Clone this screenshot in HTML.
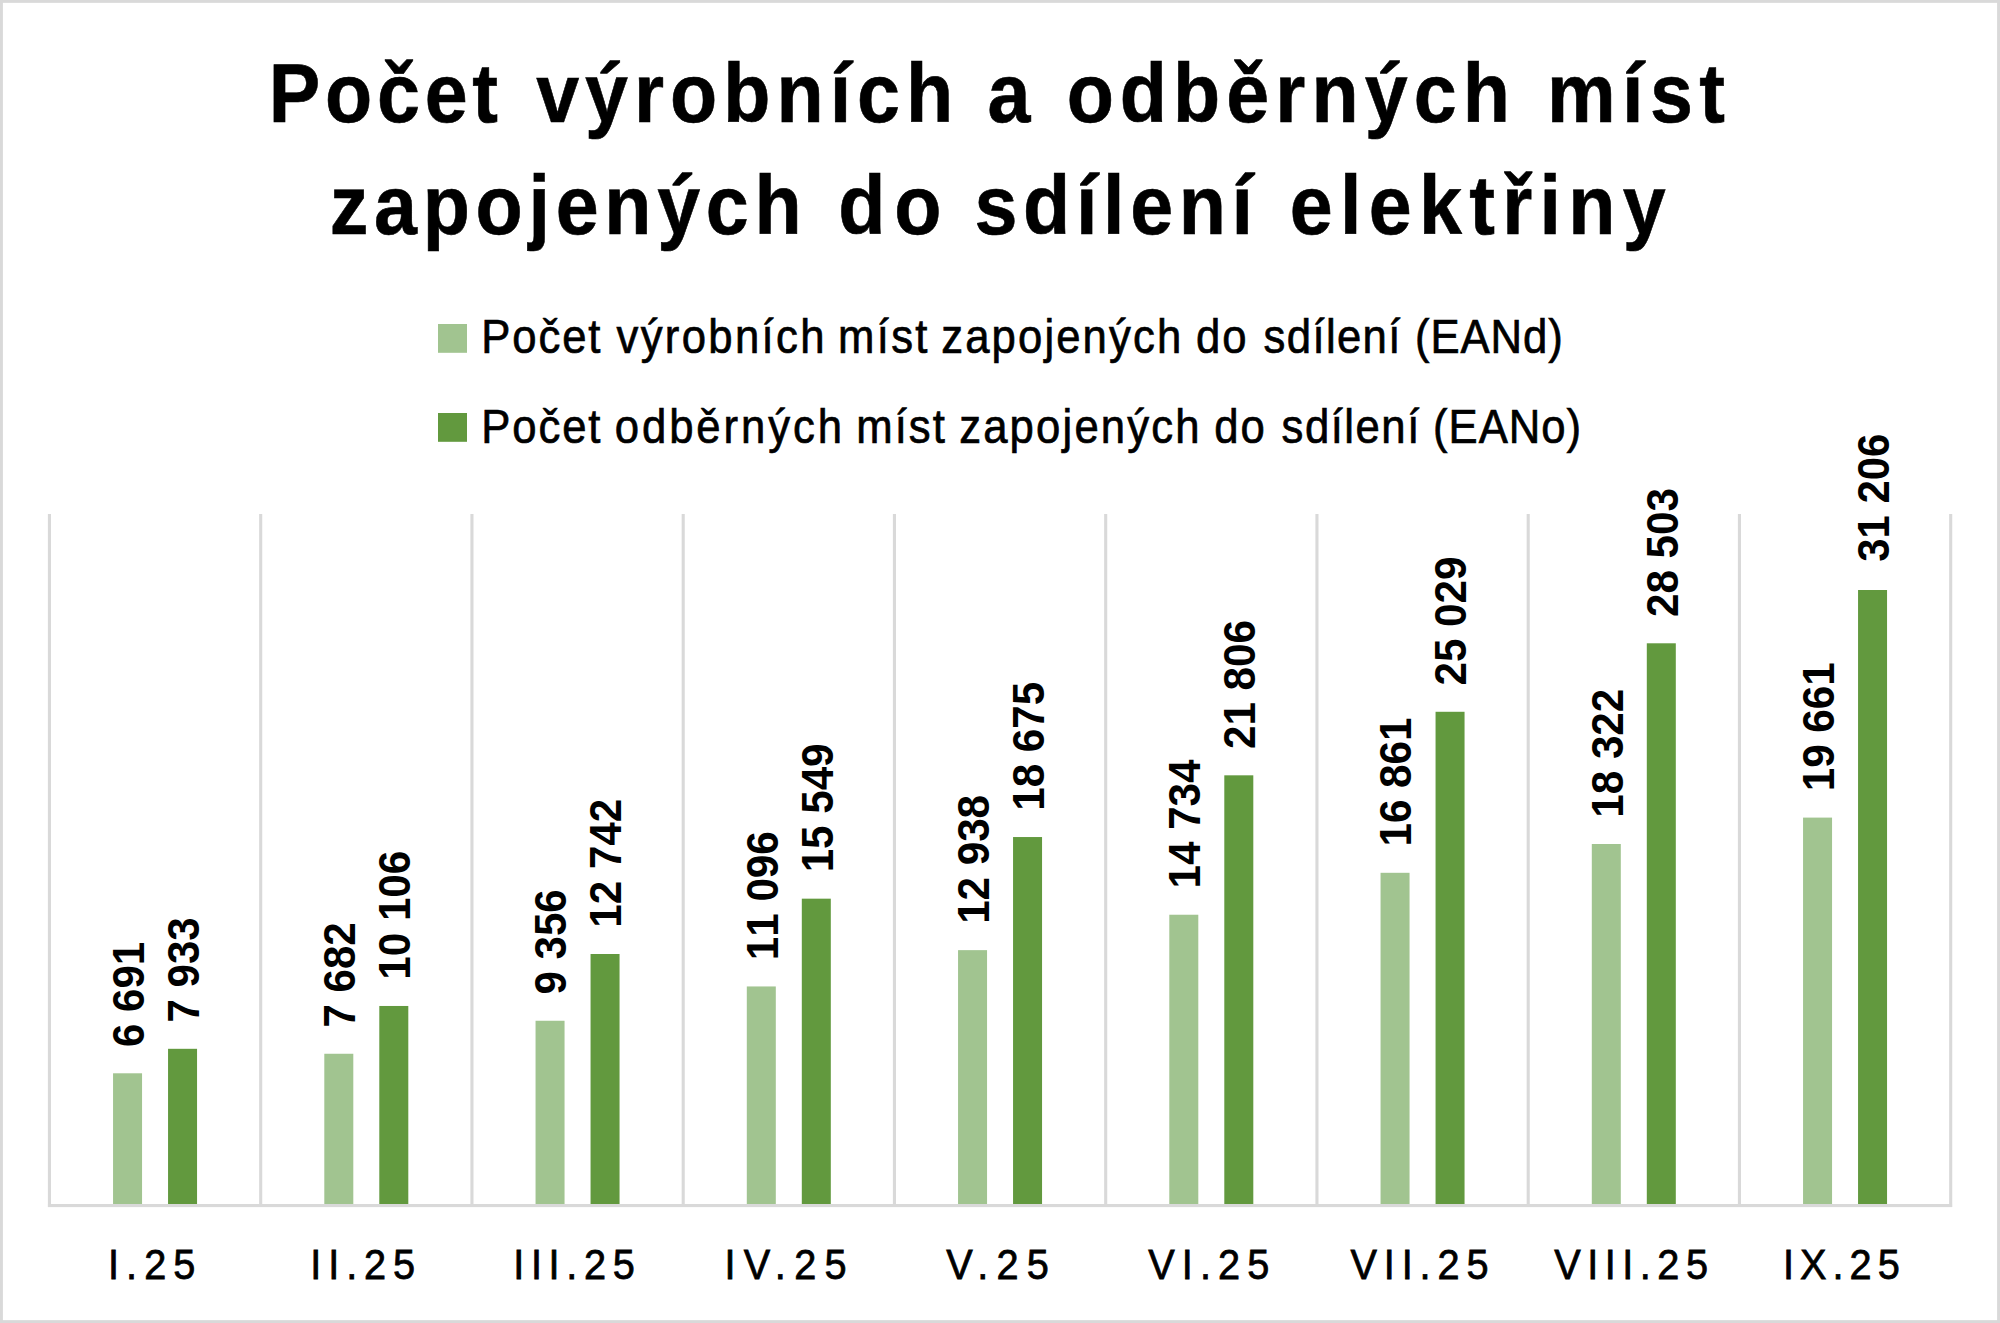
<!DOCTYPE html>
<html lang="cs">
<head>
<meta charset="utf-8">
<title>Počet výrobních a odběrných míst zapojených do sdílení elektřiny</title>
<style>
html,body{margin:0;padding:0;background:#fff}
svg{display:block}
text{font-family:"Liberation Sans",sans-serif;fill:#000}
.t{font-size:84px;font-weight:bold;stroke:#000;stroke-width:0.6px}
.l{font-size:47.5px;stroke:#000;stroke-width:0.7px}
.a{font-size:43.2px;stroke:#000;stroke-width:0.8px}
.d{font-size:44px;font-weight:bold;font-kerning:none}
</style>
</head>
<body>
<svg width="2000" height="1323" viewBox="0 0 2000 1323">
<rect x="0" y="0" width="2000" height="1323" fill="#fff"/>
<rect x="1.45" y="1.4" width="1997.1" height="1320.2" fill="none" stroke="#D9D9D9" stroke-width="2.9"/>
<g fill="#D9D9D9"><rect x="47.90" y="514.0" width="3.1" height="693.0"/><rect x="259.15" y="514.0" width="3.1" height="693.0"/><rect x="470.40" y="514.0" width="3.1" height="693.0"/><rect x="681.65" y="514.0" width="3.1" height="693.0"/><rect x="892.90" y="514.0" width="3.1" height="693.0"/><rect x="1104.15" y="514.0" width="3.1" height="693.0"/><rect x="1315.40" y="514.0" width="3.1" height="693.0"/><rect x="1526.65" y="514.0" width="3.1" height="693.0"/><rect x="1737.90" y="514.0" width="3.1" height="693.0"/><rect x="1949.15" y="514.0" width="3.1" height="693.0"/></g>
<g fill="#A1C490"><rect x="113.05" y="1073.29" width="29" height="131.71"/><rect x="324.30" y="1053.76" width="29" height="151.24"/><rect x="535.55" y="1020.76" width="29" height="184.24"/><rect x="746.80" y="986.45" width="29" height="218.55"/><rect x="958.05" y="950.14" width="29" height="254.86"/><rect x="1169.30" y="914.73" width="29" height="290.27"/><rect x="1380.55" y="872.80" width="29" height="332.20"/><rect x="1591.80" y="844.00" width="29" height="361.00"/><rect x="1803.05" y="817.60" width="29" height="387.40"/></g>
<g fill="#62993E"><rect x="168.05" y="1048.81" width="29" height="156.19"/><rect x="379.30" y="1005.97" width="29" height="199.03"/><rect x="590.55" y="954.00" width="29" height="251.00"/><rect x="801.80" y="898.67" width="29" height="306.33"/><rect x="1013.05" y="837.04" width="29" height="367.96"/><rect x="1224.30" y="775.32" width="29" height="429.68"/><rect x="1435.55" y="711.78" width="29" height="493.22"/><rect x="1646.80" y="643.29" width="29" height="561.71"/><rect x="1858.05" y="590.00" width="29" height="615.00"/></g>
<rect x="47.95" y="1204" width="1904.1" height="3.1" fill="#D9D9D9"/>
<rect x="438" y="324" width="29" height="28.8" fill="#A1C490"/>
<rect x="438" y="413" width="29" height="28.8" fill="#62993E"/>
<text class="t" transform="scale(0.92 1)" y="122.4"><tspan x="292.14" textLength="249.24" lengthAdjust="spacing">Počet</tspan> <tspan x="582.76" textLength="453.41" lengthAdjust="spacing">výrobních</tspan> <tspan x="1073.47" textLength="39.95" lengthAdjust="spacing">a</tspan> <tspan x="1159.39" textLength="481.85" lengthAdjust="spacing">odběrných</tspan> <tspan x="1681.54" textLength="193.54" lengthAdjust="spacing">míst</tspan></text>
<text class="t" transform="scale(0.92 1)" y="234.5"><tspan x="358.51" textLength="512.81" lengthAdjust="spacing">zapojených</tspan> <tspan x="911.22" textLength="112.23" lengthAdjust="spacing">do</tspan> <tspan x="1059.25" textLength="302.76" lengthAdjust="spacing">sdílení</tspan> <tspan x="1401.86" textLength="408.72" lengthAdjust="spacing">elektřiny</tspan></text>
<text class="l" transform="scale(0.92 1)" y="353.2"><tspan x="522.98" textLength="129.76" lengthAdjust="spacing">Počet</tspan> <tspan x="670.15" textLength="226.11" lengthAdjust="spacing">výrobních</tspan> <tspan x="910.82" textLength="97.37" lengthAdjust="spacing">míst</tspan> <tspan x="1023.02" textLength="260.97" lengthAdjust="spacing">zapojených</tspan> <tspan x="1300.14" textLength="54.77" lengthAdjust="spacing">do</tspan> <tspan x="1373.45" textLength="148.75" lengthAdjust="spacing">sdílení</tspan> <tspan x="1538.03" textLength="160.69" lengthAdjust="spacing">(EANd)</tspan></text>
<text class="l" transform="scale(0.92 1)" y="443"><tspan x="522.98" textLength="129.76" lengthAdjust="spacing">Počet</tspan> <tspan x="668.22" textLength="246.99" lengthAdjust="spacing">odběrných</tspan> <tspan x="930.63" textLength="96.48" lengthAdjust="spacing">míst</tspan> <tspan x="1042.59" textLength="261.28" lengthAdjust="spacing">zapojených</tspan> <tspan x="1319.71" textLength="55.08" lengthAdjust="spacing">do</tspan> <tspan x="1393.02" textLength="149.70" lengthAdjust="spacing">sdílení</tspan> <tspan x="1557.60" textLength="161.04" lengthAdjust="spacing">(EANo)</tspan></text>
<text class="a" transform="scale(0.92 1)" y="1279.4"><tspan x="117.42" textLength="95.04" lengthAdjust="spacing">I.25</tspan></text>
<text class="a" transform="scale(0.92 1)" y="1279.4"><tspan x="337.33" textLength="113.96" lengthAdjust="spacing">II.25</tspan></text>
<text class="a" transform="scale(0.92 1)" y="1279.4"><tspan x="557.83" textLength="132.26" lengthAdjust="spacing">III.25</tspan></text>
<text class="a" transform="scale(0.92 1)" y="1279.4"><tspan x="787.58" textLength="132.60" lengthAdjust="spacing">IV.25</tspan></text>
<text class="a" transform="scale(0.92 1)" y="1279.4"><tspan x="1028.68" textLength="111.39" lengthAdjust="spacing">V.25</tspan></text>
<text class="a" transform="scale(0.92 1)" y="1279.4"><tspan x="1248.04" textLength="131.71" lengthAdjust="spacing">VI.25</tspan></text>
<text class="a" transform="scale(0.92 1)" y="1279.4"><tspan x="1467.85" textLength="150.16" lengthAdjust="spacing">VII.25</tspan></text>
<text class="a" transform="scale(0.92 1)" y="1279.4"><tspan x="1689.34" textLength="167.25" lengthAdjust="spacing">VIII.25</tspan></text>
<text class="a" transform="scale(0.92 1)" y="1279.4"><tspan x="1938.05" textLength="126.90" lengthAdjust="spacing">IX.25</tspan></text>
<text class="d" transform="translate(143.95 1046.99) rotate(-90)" textLength="105.22" lengthAdjust="spacingAndGlyphs">6 691</text>
<text class="d" transform="translate(198.95 1022.51) rotate(-90)" textLength="105.22" lengthAdjust="spacingAndGlyphs">7 933</text>
<text class="d" transform="translate(355.20 1027.46) rotate(-90)" textLength="105.22" lengthAdjust="spacingAndGlyphs">7 682</text>
<text class="d" transform="translate(410.20 979.67) rotate(-90)" textLength="128.89" lengthAdjust="spacingAndGlyphs">10 106</text>
<text class="d" transform="translate(566.45 994.46) rotate(-90)" textLength="105.22" lengthAdjust="spacingAndGlyphs">9 356</text>
<text class="d" transform="translate(621.45 927.70) rotate(-90)" textLength="128.89" lengthAdjust="spacingAndGlyphs">12 742</text>
<text class="d" transform="translate(777.70 960.15) rotate(-90)" textLength="128.89" lengthAdjust="spacingAndGlyphs">11 096</text>
<text class="d" transform="translate(832.70 872.37) rotate(-90)" textLength="128.89" lengthAdjust="spacingAndGlyphs">15 549</text>
<text class="d" transform="translate(988.95 923.84) rotate(-90)" textLength="128.89" lengthAdjust="spacingAndGlyphs">12 938</text>
<text class="d" transform="translate(1043.95 810.74) rotate(-90)" textLength="128.89" lengthAdjust="spacingAndGlyphs">18 675</text>
<text class="d" transform="translate(1200.20 888.43) rotate(-90)" textLength="128.89" lengthAdjust="spacingAndGlyphs">14 734</text>
<text class="d" transform="translate(1255.20 749.02) rotate(-90)" textLength="128.89" lengthAdjust="spacingAndGlyphs">21 806</text>
<text class="d" transform="translate(1411.45 846.50) rotate(-90)" textLength="128.89" lengthAdjust="spacingAndGlyphs">16 861</text>
<text class="d" transform="translate(1466.45 685.48) rotate(-90)" textLength="128.89" lengthAdjust="spacingAndGlyphs">25 029</text>
<text class="d" transform="translate(1622.70 817.70) rotate(-90)" textLength="128.89" lengthAdjust="spacingAndGlyphs">18 322</text>
<text class="d" transform="translate(1677.70 616.99) rotate(-90)" textLength="128.89" lengthAdjust="spacingAndGlyphs">28 503</text>
<text class="d" transform="translate(1833.95 791.30) rotate(-90)" textLength="128.89" lengthAdjust="spacingAndGlyphs">19 661</text>
<text class="d" transform="translate(1888.95 561.70) rotate(-90)" textLength="127.89" lengthAdjust="spacingAndGlyphs">31 206</text>
</svg>
</body>
</html>
